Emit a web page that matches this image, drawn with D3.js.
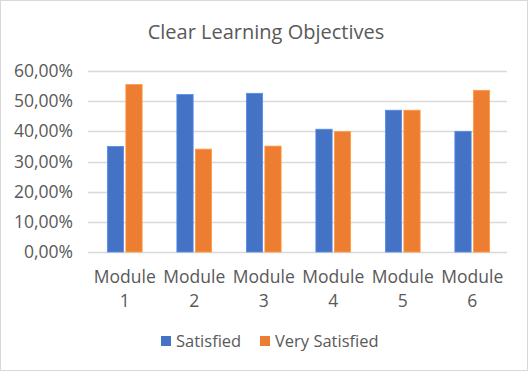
<!DOCTYPE html>
<html>
<head>
<meta charset="utf-8">
<script src="https://cdn.jsdelivr.net/npm/d3@7"></script>
<style>
  body { margin: 0; background: #fff; }
  text { font-family: "Open Sans", sans-serif; fill: #595959; }
</style>
</head>
<body>
<script>
//chart data
var modules = ["Module 1", "Module 2", "Module 3", "Module 4", "Module 5", "Module 6"];
var satisfied = [0.350, 0.522, 0.526, 0.407, 0.470, 0.400];
var verySatisfied = [0.555, 0.341, 0.351, 0.399, 0.470, 0.536];
var seriesNames = ["Satisfied", "Very Satisfied"];
var seriesColors = ["#4472C4", "#ED7D31"];
var yTicks = [0, 0.1, 0.2, 0.3, 0.4, 0.5, 0.6];

window.onload = function(){
    var w = 530, h = 373;
    var margin = {left: 90, right: 23, top: 71, bottom: 121};

    var svg = d3.select("body").append("svg")
        .attr("width", w)
        .attr("height", h);

    //outer border of the chart area
    svg.append("rect")
        .attr("x", 0.5).attr("y", 0.5)
        .attr("width", w - 3).attr("height", h - 3)
        .style("fill", "#fff")
        .style("stroke", "#d9d9d9");

    var x = d3.scaleBand()
        .domain(modules)
        .range([margin.left, w - margin.right])
        .paddingInner(0.5)
        .paddingOuter(0.25);

    var x1 = d3.scaleBand()
        .domain(seriesNames)
        .range([0, x.bandwidth()])
        .paddingInner(0.12);

    var y = d3.scaleLinear()
        .domain([0, 0.6])
        .range([h - margin.bottom, margin.top]);

    //gridlines
    svg.append("g").selectAll("line")
        .data(yTicks)
        .enter().append("line")
        .attr("x1", margin.left - 2)
        .attr("x2", w - margin.right)
        .attr("y1", function(d){ return Math.round(y(d)) + 0.5; })
        .attr("y2", function(d){ return Math.round(y(d)) + 0.5; })
        .style("stroke", "#d9d9d9")
        .style("stroke-width", 1.5);

    //y axis labels
    var fmt = function(d){ return (d * 100).toFixed(2).replace(".", ",") + "%"; };
    var yAxis = d3.axisLeft(y).tickValues(yTicks).tickFormat(fmt).tickSize(0).tickPadding(17);
    var ya = svg.append("g")
        .attr("transform", "translate(" + margin.left + ",0)")
        .call(yAxis);
    ya.select(".domain").remove();
    ya.selectAll("text").style("font-size", "17.5px").style("fill", "#595959")
        .style("font-family", "'Open Sans', sans-serif");

    //bars
    var rows = modules.map(function(m, i){
        return {module: m, values: [satisfied[i], verySatisfied[i]]};
    });
    var groups = svg.append("g").selectAll("g")
        .data(rows)
        .enter().append("g")
        .attr("transform", function(d){ return "translate(" + x(d.module) + ",0)"; });

    groups.selectAll("rect")
        .data(function(d){
            return d.values.map(function(v, j){ return {name: seriesNames[j], value: v, j: j}; });
        })
        .enter().append("rect")
        .attr("x", function(d){ return x1(d.name); })
        .attr("width", x1.bandwidth())
        .attr("y", function(d){ return y(d.value); })
        .attr("height", function(d){ return y(0) - y(d.value); })
        .style("fill", function(d){ return seriesColors[d.j]; })
        .style("stroke", function(d){ return d3.color(seriesColors[d.j]).brighter(0.6); })
        .style("stroke-width", 0.8);

    //x labels on two lines
    var xl = svg.append("g").selectAll("text")
        .data(modules)
        .enter().append("text")
        .attr("text-anchor", "middle")
        .style("font-size", "17.5px");
    xl.append("tspan")
        .attr("x", function(d){ return x(d) + x.bandwidth() / 2; })
        .attr("y", 283)
        .text(function(d){ return d.split(" ")[0]; });
    xl.append("tspan")
        .attr("x", function(d){ return x(d) + x.bandwidth() / 2; })
        .attr("y", 307)
        .text(function(d){ return d.split(" ")[1]; });

    //title
    svg.append("text")
        .attr("x", 266)
        .attr("y", 39)
        .attr("text-anchor", "middle")
        .style("font-size", "20px")
        .text("Clear Learning Objectives");

    //legend
    var legendX = [161, 260];
    var legend = svg.append("g").selectAll("g")
        .data(seriesNames)
        .enter().append("g")
        .attr("transform", function(d, i){ return "translate(" + legendX[i] + ",336)"; });
    legend.append("rect")
        .attr("width", 10).attr("height", 10)
        .style("fill", function(d, i){ return seriesColors[i]; });
    legend.append("text")
        .attr("x", 15).attr("y", 11)
        .style("font-size", "16.5px")
        .text(function(d){ return d; });
};
</script>
</body>
</html>
